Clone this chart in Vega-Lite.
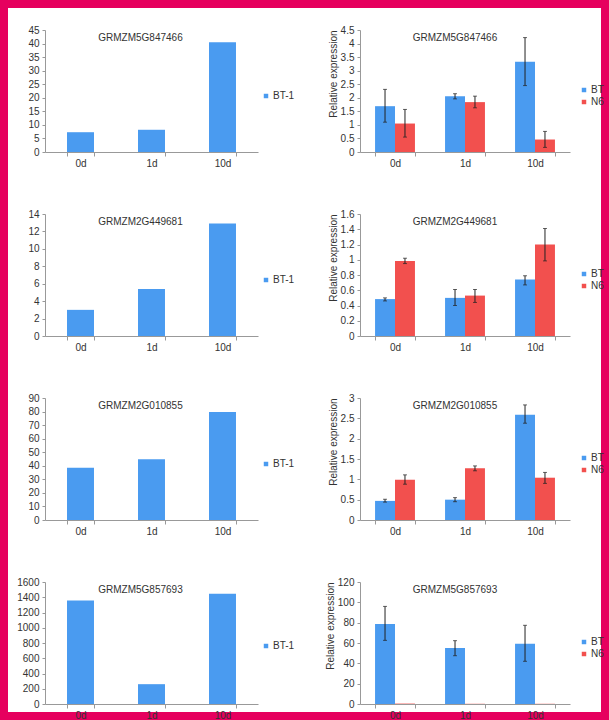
{
  "$schema": "https://vega.github.io/schema/vega-lite/v6.json",
  "background": "#e6005e",
  "padding": {"left": 8, "top": 8, "right": 8, "bottom": 8},
  "spacing": 0,
  "columns": 2,
  "resolve": {"scale": {"x": "independent", "y": "independent", "color": "independent"}, "legend": {"color": "independent"}},
  "config": {
    "font": "Liberation Sans",
    "view": {"stroke": null},
    "title": {"font": "Liberation Sans", "fontSize": 10, "fontWeight": "normal", "color": "#333", "frame": "group", "anchor": "middle", "offset": -35, "baseline": "middle"},
    "axis": {"labelFont": "Liberation Sans", "labelFontSize": 10, "labelColor": "#333", "domainColor": "#999", "tickColor": "#999", "tickSize": 3, "grid": false, "titleFont": "Liberation Sans", "titleFontSize": 10, "titleFontWeight": "normal", "titleColor": "#333"},
    "axisX": {"tickBand": "extent", "labelAngle": 0, "labelPadding": 2, "tickSize": 4},
    "axisY": {"labelPadding": 3, "format": "~r", "labelOverlap": false},
    "legend": {"symbolType": "square", "symbolSize": 20, "symbolStrokeWidth": 0, "labelFont": "Liberation Sans", "labelFontSize": 10, "labelColor": "#333", "rowPadding": 2, "labelOffset": 2, "title": null}
  },
  "concat": [
    {
      "width": 297, "height": 184,
      "view": {"fill": "white", "stroke": null},
      "title": {"text": "GRMZM5G847466", "dx": -16},
      "data": {"values": [
        {"day": "0d", "series": "BT-1", "value": 7.3},
        {"day": "1d", "series": "BT-1", "value": 8.2},
        {"day": "10d", "series": "BT-1", "value": 40.5}
      ]},
      "mark": {"type": "bar"},
      "encoding": {
        "x": {"field": "day", "type": "nominal", "sort": ["0d", "1d", "10d"], "title": null, "scale": {"rangeMin": 37, "rangeMax": 250, "paddingInner": 0.62, "paddingOuter": 0.31}, "axis": {"offset": -40}},
        "y": {"field": "value", "type": "quantitative", "title": null, "scale": {"domain": [0, 45], "nice": false, "rangeMin": 144, "rangeMax": 22}, "axis": {"offset": -37, "values": [0, 5, 10, 15, 20, 25, 30, 35, 40, 45]}},
        "color": {"field": "series", "type": "nominal", "scale": {"domain": ["BT-1"], "range": ["#4a9bf0"]}, "legend": {"orient": "none", "legendX": 253, "legendY": 83}}
      }
    },
    {
      "width": 296, "height": 184,
      "view": {"fill": "white", "stroke": null},
      "title": {"text": "GRMZM5G847466", "dx": 2},
      "data": {"values": [
        {"day": "0d", "group": "BT", "value": 1.69, "lo": 1.10, "hi": 2.31},
        {"day": "0d", "group": "N6", "value": 1.05, "lo": 0.55, "hi": 1.57},
        {"day": "1d", "group": "BT", "value": 2.06, "lo": 1.96, "hi": 2.15},
        {"day": "1d", "group": "N6", "value": 1.84, "lo": 1.63, "hi": 2.06},
        {"day": "10d", "group": "BT", "value": 3.33, "lo": 2.45, "hi": 4.22},
        {"day": "10d", "group": "N6", "value": 0.46, "lo": 0.17, "hi": 0.76}
      ]},
      "encoding": {
        "x": {"field": "day", "type": "nominal", "sort": ["0d", "1d", "10d"], "title": null, "scale": {"rangeMin": 55, "rangeMax": 265, "paddingInner": 0.43, "paddingOuter": 0.215}, "axis": {"offset": -40}},
        "xOffset": {"field": "group", "type": "nominal", "sort": ["BT", "N6"]}
      },
      "layer": [
        {"mark": {"type": "bar"}, "encoding": {
          "y": {"field": "value", "type": "quantitative", "title": "Relative expression", "scale": {"domain": [0, 4.5], "nice": false, "rangeMin": 144, "rangeMax": 22}, "axis": {"offset": -55, "values": [0, 0.5, 1, 1.5, 2, 2.5, 3, 3.5, 4, 4.5], "titleAnchor": "end", "titlePadding": 2}},
          "color": {"field": "group", "type": "nominal", "scale": {"domain": ["BT", "N6"], "range": ["#4a9bf0", "#f2504e"]}, "legend": {"orient": "none", "legendX": 274, "legendY": 77}}
        }},
        {"mark": {"type": "rule", "color": "#222", "strokeWidth": 1}, "encoding": {
          "y": {"field": "lo", "type": "quantitative", "title": "Relative expression", "axis": {"offset": -55, "values": [0, 0.5, 1, 1.5, 2, 2.5, 3, 3.5, 4, 4.5], "titleAnchor": "end", "titlePadding": 2}}, "y2": {"field": "hi"}
        }},
        {"mark": {"type": "tick", "color": "#222", "size": 4, "thickness": 1}, "encoding": {
          "y": {"field": "lo", "type": "quantitative", "title": "Relative expression", "axis": {"offset": -55, "values": [0, 0.5, 1, 1.5, 2, 2.5, 3, 3.5, 4, 4.5], "titleAnchor": "end", "titlePadding": 2}}
        }},
        {"mark": {"type": "tick", "color": "#222", "size": 4, "thickness": 1}, "encoding": {
          "y": {"field": "hi", "type": "quantitative", "title": "Relative expression", "axis": {"offset": -55, "values": [0, 0.5, 1, 1.5, 2, 2.5, 3, 3.5, 4, 4.5], "titleAnchor": "end", "titlePadding": 2}}
        }}
      ]
    },
    {
      "width": 297, "height": 184,
      "view": {"fill": "white", "stroke": null},
      "title": {"text": "GRMZM2G449681", "dx": -16},
      "data": {"values": [
        {"day": "0d", "series": "BT-1", "value": 3.0},
        {"day": "1d", "series": "BT-1", "value": 5.4},
        {"day": "10d", "series": "BT-1", "value": 12.9}
      ]},
      "mark": {"type": "bar"},
      "encoding": {
        "x": {"field": "day", "type": "nominal", "sort": ["0d", "1d", "10d"], "title": null, "scale": {"rangeMin": 37, "rangeMax": 250, "paddingInner": 0.62, "paddingOuter": 0.31}, "axis": {"offset": -40}},
        "y": {"field": "value", "type": "quantitative", "title": null, "scale": {"domain": [0, 14], "nice": false, "rangeMin": 144, "rangeMax": 22}, "axis": {"offset": -37, "values": [0, 2, 4, 6, 8, 10, 12, 14]}},
        "color": {"field": "series", "type": "nominal", "scale": {"domain": ["BT-1"], "range": ["#4a9bf0"]}, "legend": {"orient": "none", "legendX": 253, "legendY": 83}}
      }
    },
    {
      "width": 296, "height": 184,
      "view": {"fill": "white", "stroke": null},
      "title": {"text": "GRMZM2G449681", "dx": 2},
      "data": {"values": [
        {"day": "0d", "group": "BT", "value": 0.484, "lo": 0.46, "hi": 0.50},
        {"day": "0d", "group": "N6", "value": 0.985, "lo": 0.95, "hi": 1.02},
        {"day": "1d", "group": "BT", "value": 0.50, "lo": 0.40, "hi": 0.61},
        {"day": "1d", "group": "N6", "value": 0.53, "lo": 0.44, "hi": 0.61},
        {"day": "10d", "group": "BT", "value": 0.74, "lo": 0.67, "hi": 0.79},
        {"day": "10d", "group": "N6", "value": 1.20, "lo": 0.985, "hi": 1.41}
      ]},
      "encoding": {
        "x": {"field": "day", "type": "nominal", "sort": ["0d", "1d", "10d"], "title": null, "scale": {"rangeMin": 55, "rangeMax": 265, "paddingInner": 0.43, "paddingOuter": 0.215}, "axis": {"offset": -40}},
        "xOffset": {"field": "group", "type": "nominal", "sort": ["BT", "N6"]}
      },
      "layer": [
        {"mark": {"type": "bar"}, "encoding": {
          "y": {"field": "value", "type": "quantitative", "title": "Relative expression", "scale": {"domain": [0, 1.6], "nice": false, "rangeMin": 144, "rangeMax": 22}, "axis": {"offset": -55, "values": [0, 0.2, 0.4, 0.6, 0.8, 1, 1.2, 1.4, 1.6], "titleAnchor": "end", "titlePadding": 2}},
          "color": {"field": "group", "type": "nominal", "scale": {"domain": ["BT", "N6"], "range": ["#4a9bf0", "#f2504e"]}, "legend": {"orient": "none", "legendX": 274, "legendY": 77}}
        }},
        {"mark": {"type": "rule", "color": "#222", "strokeWidth": 1}, "encoding": {
          "y": {"field": "lo", "type": "quantitative", "title": "Relative expression", "axis": {"offset": -55, "values": [0, 0.2, 0.4, 0.6, 0.8, 1, 1.2, 1.4, 1.6], "titleAnchor": "end", "titlePadding": 2}}, "y2": {"field": "hi"}
        }},
        {"mark": {"type": "tick", "color": "#222", "size": 4, "thickness": 1}, "encoding": {
          "y": {"field": "lo", "type": "quantitative", "title": "Relative expression", "axis": {"offset": -55, "values": [0, 0.2, 0.4, 0.6, 0.8, 1, 1.2, 1.4, 1.6], "titleAnchor": "end", "titlePadding": 2}}
        }},
        {"mark": {"type": "tick", "color": "#222", "size": 4, "thickness": 1}, "encoding": {
          "y": {"field": "hi", "type": "quantitative", "title": "Relative expression", "axis": {"offset": -55, "values": [0, 0.2, 0.4, 0.6, 0.8, 1, 1.2, 1.4, 1.6], "titleAnchor": "end", "titlePadding": 2}}
        }}
      ]
    },
    {
      "width": 297, "height": 184,
      "view": {"fill": "white", "stroke": null},
      "title": {"text": "GRMZM2G010855", "dx": -16},
      "data": {"values": [
        {"day": "0d", "series": "BT-1", "value": 38.5},
        {"day": "1d", "series": "BT-1", "value": 44.9},
        {"day": "10d", "series": "BT-1", "value": 79.7}
      ]},
      "mark": {"type": "bar"},
      "encoding": {
        "x": {"field": "day", "type": "nominal", "sort": ["0d", "1d", "10d"], "title": null, "scale": {"rangeMin": 37, "rangeMax": 250, "paddingInner": 0.62, "paddingOuter": 0.31}, "axis": {"offset": -40}},
        "y": {"field": "value", "type": "quantitative", "title": null, "scale": {"domain": [0, 90], "nice": false, "rangeMin": 144, "rangeMax": 22}, "axis": {"offset": -37, "values": [0, 10, 20, 30, 40, 50, 60, 70, 80, 90]}},
        "color": {"field": "series", "type": "nominal", "scale": {"domain": ["BT-1"], "range": ["#4a9bf0"]}, "legend": {"orient": "none", "legendX": 253, "legendY": 83}}
      }
    },
    {
      "width": 296, "height": 184,
      "view": {"fill": "white", "stroke": null},
      "title": {"text": "GRMZM2G010855", "dx": 2},
      "data": {"values": [
        {"day": "0d", "group": "BT", "value": 0.47, "lo": 0.44, "hi": 0.51},
        {"day": "0d", "group": "N6", "value": 0.99, "lo": 0.88, "hi": 1.11},
        {"day": "1d", "group": "BT", "value": 0.50, "lo": 0.45, "hi": 0.55},
        {"day": "1d", "group": "N6", "value": 1.27, "lo": 1.21, "hi": 1.33},
        {"day": "10d", "group": "BT", "value": 2.59, "lo": 2.38, "hi": 2.83},
        {"day": "10d", "group": "N6", "value": 1.04, "lo": 0.90, "hi": 1.17}
      ]},
      "encoding": {
        "x": {"field": "day", "type": "nominal", "sort": ["0d", "1d", "10d"], "title": null, "scale": {"rangeMin": 55, "rangeMax": 265, "paddingInner": 0.43, "paddingOuter": 0.215}, "axis": {"offset": -40}},
        "xOffset": {"field": "group", "type": "nominal", "sort": ["BT", "N6"]}
      },
      "layer": [
        {"mark": {"type": "bar"}, "encoding": {
          "y": {"field": "value", "type": "quantitative", "title": "Relative expression", "scale": {"domain": [0, 3], "nice": false, "rangeMin": 144, "rangeMax": 22}, "axis": {"offset": -55, "values": [0, 0.5, 1, 1.5, 2, 2.5, 3], "titleAnchor": "end", "titlePadding": 2}},
          "color": {"field": "group", "type": "nominal", "scale": {"domain": ["BT", "N6"], "range": ["#4a9bf0", "#f2504e"]}, "legend": {"orient": "none", "legendX": 274, "legendY": 77}}
        }},
        {"mark": {"type": "rule", "color": "#222", "strokeWidth": 1}, "encoding": {
          "y": {"field": "lo", "type": "quantitative", "title": "Relative expression", "axis": {"offset": -55, "values": [0, 0.5, 1, 1.5, 2, 2.5, 3], "titleAnchor": "end", "titlePadding": 2}}, "y2": {"field": "hi"}
        }},
        {"mark": {"type": "tick", "color": "#222", "size": 4, "thickness": 1}, "encoding": {
          "y": {"field": "lo", "type": "quantitative", "title": "Relative expression", "axis": {"offset": -55, "values": [0, 0.5, 1, 1.5, 2, 2.5, 3], "titleAnchor": "end", "titlePadding": 2}}
        }},
        {"mark": {"type": "tick", "color": "#222", "size": 4, "thickness": 1}, "encoding": {
          "y": {"field": "hi", "type": "quantitative", "title": "Relative expression", "axis": {"offset": -55, "values": [0, 0.5, 1, 1.5, 2, 2.5, 3], "titleAnchor": "end", "titlePadding": 2}}
        }}
      ]
    },
    {
      "width": 297, "height": 152,
      "view": {"fill": "white", "stroke": null},
      "title": {"text": "GRMZM5G857693", "dx": -16},
      "data": {"values": [
        {"day": "0d", "series": "BT-1", "value": 1357},
        {"day": "1d", "series": "BT-1", "value": 260},
        {"day": "10d", "series": "BT-1", "value": 1446}
      ]},
      "mark": {"type": "bar"},
      "encoding": {
        "x": {"field": "day", "type": "nominal", "sort": ["0d", "1d", "10d"], "title": null, "scale": {"rangeMin": 37, "rangeMax": 250, "paddingInner": 0.62, "paddingOuter": 0.31}, "axis": {"offset": -8}},
        "y": {"field": "value", "type": "quantitative", "title": null, "scale": {"domain": [0, 1600], "nice": false, "rangeMin": 144, "rangeMax": 22}, "axis": {"offset": -37, "values": [0, 200, 400, 600, 800, 1000, 1200, 1400, 1600]}},
        "color": {"field": "series", "type": "nominal", "scale": {"domain": ["BT-1"], "range": ["#4a9bf0"]}, "legend": {"orient": "none", "legendX": 253, "legendY": 81}}
      }
    },
    {
      "width": 296, "height": 152,
      "view": {"fill": "white", "stroke": null},
      "title": {"text": "GRMZM5G857693", "dx": 2},
      "data": {"values": [
        {"day": "0d", "group": "BT", "value": 78.7, "lo": 62.6, "hi": 96},
        {"day": "0d", "group": "N6", "value": 0.4},
        {"day": "1d", "group": "BT", "value": 55, "lo": 47.5, "hi": 62.3},
        {"day": "1d", "group": "N6", "value": 0.2},
        {"day": "10d", "group": "BT", "value": 59.3, "lo": 42, "hi": 77.4},
        {"day": "10d", "group": "N6", "value": 0.2}
      ]},
      "encoding": {
        "x": {"field": "day", "type": "nominal", "sort": ["0d", "1d", "10d"], "title": null, "scale": {"rangeMin": 55, "rangeMax": 265, "paddingInner": 0.43, "paddingOuter": 0.215}, "axis": {"offset": -8}},
        "xOffset": {"field": "group", "type": "nominal", "sort": ["BT", "N6"], "scale": {"domain": ["BT", "N6"]}}
      },
      "layer": [
        {"mark": {"type": "bar"}, "encoding": {
          "y": {"field": "value", "type": "quantitative", "title": "Relative expression", "scale": {"domain": [0, 120], "nice": false, "rangeMin": 144, "rangeMax": 22}, "axis": {"offset": -55, "values": [0, 20, 40, 60, 80, 100, 120], "titleAnchor": "end", "titlePadding": 2}},
          "color": {"field": "group", "type": "nominal", "scale": {"domain": ["BT", "N6"], "range": ["#4a9bf0", "#f2504e"]}, "legend": {"orient": "none", "legendX": 274, "legendY": 77}}
        }},
        {"mark": {"type": "rule", "color": "#222", "strokeWidth": 1}, "encoding": {
          "y": {"field": "lo", "type": "quantitative", "title": "Relative expression", "axis": {"offset": -55, "values": [0, 20, 40, 60, 80, 100, 120], "titleAnchor": "end", "titlePadding": 2}}, "y2": {"field": "hi"}
        }},
        {"mark": {"type": "tick", "color": "#222", "size": 4, "thickness": 1}, "encoding": {
          "y": {"field": "lo", "type": "quantitative", "title": "Relative expression", "axis": {"offset": -55, "values": [0, 20, 40, 60, 80, 100, 120], "titleAnchor": "end", "titlePadding": 2}}
        }},
        {"mark": {"type": "tick", "color": "#222", "size": 4, "thickness": 1}, "encoding": {
          "y": {"field": "hi", "type": "quantitative", "title": "Relative expression", "axis": {"offset": -55, "values": [0, 20, 40, 60, 80, 100, 120], "titleAnchor": "end", "titlePadding": 2}}
        }}
      ]
    }
  ]
}
